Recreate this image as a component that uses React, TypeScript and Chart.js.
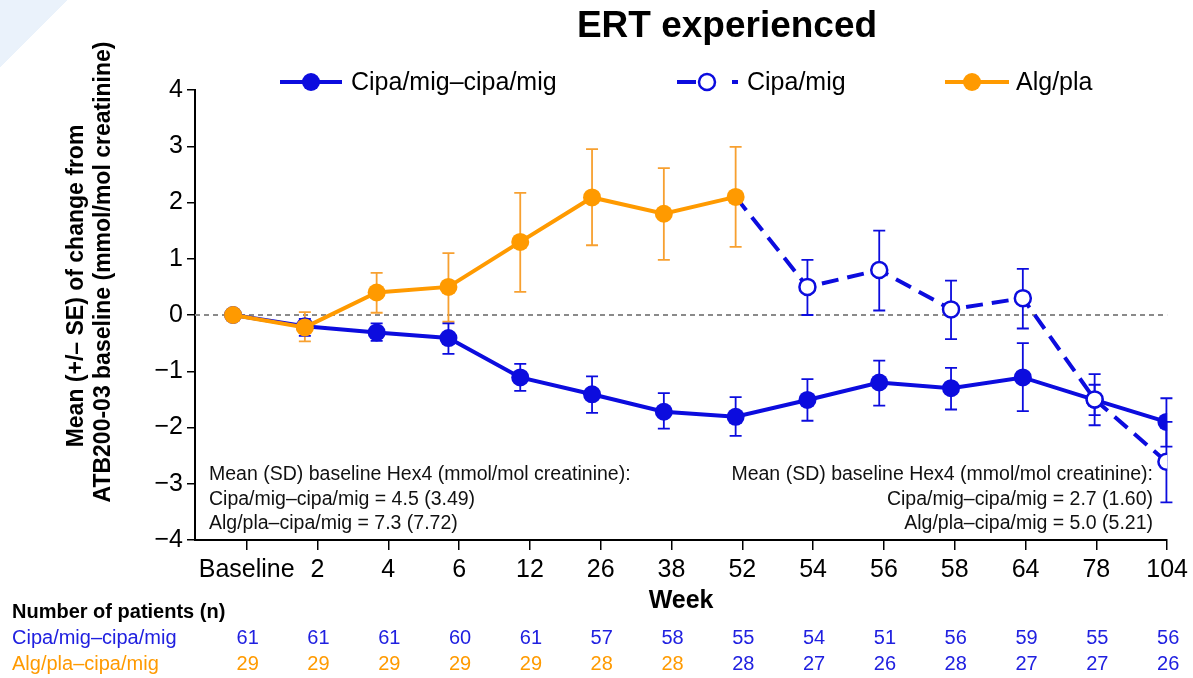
import React, { useEffect, useRef } from 'react';
import { Chart, registerables } from 'chart.js';

Chart.register(...registerables);

// ---------- data ----------
const weekLabels = ['Baseline', '2', '4', '6', '12', '26', '38', '52', '54', '56', '58', '64', '78', '104'];

// Cipa/mig–cipa/mig (solid blue), all weeks
const cipaMean = [0, -0.2, -0.31, -0.41, -1.11, -1.41, -1.72, -1.81, -1.51, -1.2, -1.3, -1.11, -1.51, -1.9];
const cipaLow = [null, -0.37, -0.46, -0.69, -1.35, -1.74, -2.02, -2.15, -1.88, -1.61, -1.68, -1.71, -1.78, -2.34];
const cipaHigh = [null, -0.07, -0.15, -0.15, -0.87, -1.09, -1.39, -1.46, -1.14, -0.81, -0.94, -0.5, -1.24, -1.48];

// Alg/pla (orange), baseline to week 52
const algMean = [0, -0.22, 0.4, 0.5, 1.3, 2.09, 1.8, 2.1];
const algLow = [null, -0.47, 0.04, -0.12, 0.41, 1.24, 0.98, 1.21];
const algHigh = [null, 0.05, 0.75, 1.1, 2.17, 2.95, 2.61, 2.99];

// Alg/pla switched to Cipa/mig (dashed blue), week 52 to 104
const switchStartIndex = 7;
const switchMean = [2.1, 0.5, 0.8, 0.1, 0.3, -1.5, -2.61];
const switchLow = [null, 0.0, 0.08, -0.43, -0.24, -1.96, -3.33];
const switchHigh = [null, 0.98, 1.5, 0.61, 0.82, -1.05, -1.9];

// Number of patients
const nCipa = [61, 61, 61, 60, 61, 57, 58, 55, 54, 51, 56, 59, 55, 56];
const nAlg = [29, 29, 29, 29, 29, 28, 28, 28, 27, 26, 28, 27, 27, 26];

const yTicks = [-4, -3, -2, -1, 0, 1, 2, 3, 4];

const annotLeft = [
  'Mean (SD) baseline Hex4 (mmol/mol creatinine):',
  'Cipa/mig\u2013cipa/mig = 4.5 (3.49)',
  'Alg/pla\u2013cipa/mig = 7.3 (7.72)',
];
const annotRight = [
  'Mean (SD) baseline Hex4 (mmol/mol creatinine):',
  'Cipa/mig\u2013cipa/mig = 2.7 (1.60)',
  'Alg/pla\u2013cipa/mig = 5.0 (5.21)',
];

// ---------- styles ----------
const BLUE = '#0c0cde';
const BLUE_TEXT = '#2020e0';
const ORANGE = '#ff9a00';
const ORANGE_BAR = '#f7a030';
const FONT = "'Liberation Sans', Arial, Helvetica, sans-serif";

export default function App() {
  const ref = useRef<HTMLCanvasElement | null>(null);

  useEffect(() => {
    const canvas = ref.current;
    if (!canvas) return;

    const cipaPts = cipaMean.map((y, i) => ({ x: i, y }));
    const algPts = algMean.map((y, i) => ({ x: i, y }));
    const swPts = switchMean.map((y, k) => ({ x: switchStartIndex + k, y }));

    const bars = [
      { start: 0, low: algLow, high: algHigh, color: ORANGE_BAR },
      { start: 0, low: cipaLow, high: cipaHigh, color: BLUE },
      { start: switchStartIndex, low: switchLow, high: switchHigh, color: BLUE },
    ];

    const custom = {
      id: 'custom',
      beforeDatasetsDraw(chart: any) {
        const { ctx, chartArea } = chart;
        const xs = chart.scales.x;
        const ys = chart.scales.y;
        // zero reference line
        ctx.save();
        ctx.strokeStyle = '#8a8a8a';
        ctx.lineWidth = 2;
        ctx.setLineDash([5, 4]);
        const y0 = ys.getPixelForValue(0);
        ctx.beginPath();
        ctx.moveTo(chartArea.left, y0);
        ctx.lineTo(chartArea.right, y0);
        ctx.stroke();
        ctx.restore();
        // error bars
        ctx.save();
        ctx.lineWidth = 1.8;
        bars.forEach((b) => {
          ctx.strokeStyle = b.color;
          b.low.forEach((lo, k) => {
            const hi = b.high[k];
            if (lo == null || hi == null) return;
            const px = xs.getPixelForValue(b.start + k);
            const pLo = ys.getPixelForValue(lo);
            const pHi = ys.getPixelForValue(hi);
            ctx.beginPath();
            ctx.moveTo(px, pLo);
            ctx.lineTo(px, pHi);
            ctx.moveTo(px - 6, pLo);
            ctx.lineTo(px + 6, pLo);
            ctx.moveTo(px - 6, pHi);
            ctx.lineTo(px + 6, pHi);
            ctx.stroke();
          });
        });
        ctx.restore();
      },
      afterDraw(chart: any) {
        const { ctx, chartArea } = chart;
        const xt = chart.scales.xt;
        ctx.save();
        ctx.fillStyle = '#000';
        // title
        ctx.font = `bold 37px ${FONT}`;
        ctx.textAlign = 'center';
        ctx.textBaseline = 'middle';
        ctx.fillText('ERT experienced', 727, 27);

        // legend
        const ly = 82;
        ctx.lineWidth = 4;
        ctx.strokeStyle = BLUE;
        ctx.beginPath();
        ctx.moveTo(280, ly);
        ctx.lineTo(342, ly);
        ctx.stroke();
        ctx.fillStyle = BLUE;
        ctx.beginPath();
        ctx.arc(311, ly, 9, 0, Math.PI * 2);
        ctx.fill();

        ctx.beginPath();
        ctx.moveTo(677, ly);
        ctx.lineTo(696, ly);
        ctx.moveTo(732, ly);
        ctx.lineTo(738, ly);
        ctx.stroke();
        ctx.fillStyle = '#fff';
        ctx.lineWidth = 2.5;
        ctx.beginPath();
        ctx.arc(707, ly, 8, 0, Math.PI * 2);
        ctx.fill();
        ctx.stroke();

        ctx.lineWidth = 4;
        ctx.strokeStyle = ORANGE;
        ctx.beginPath();
        ctx.moveTo(945, ly);
        ctx.lineTo(1009, ly);
        ctx.stroke();
        ctx.fillStyle = ORANGE;
        ctx.beginPath();
        ctx.arc(972, ly, 9, 0, Math.PI * 2);
        ctx.fill();

        ctx.fillStyle = '#000';
        ctx.font = `25px ${FONT}`;
        ctx.textAlign = 'left';
        ctx.fillText('Cipa/mig\u2013cipa/mig', 351, ly + 1);
        ctx.fillText('Cipa/mig', 747, ly + 1);
        ctx.fillText('Alg/pla', 1016, ly + 1);

        // y axis title
        ctx.save();
        ctx.font = `bold 23px ${FONT}`;
        ctx.textAlign = 'center';
        ctx.translate(77, 280);
        ctx.rotate(-Math.PI / 2);
        ctx.fillText('Mean (+/\u2013 SE) of change from', -6, 0);
        ctx.fillText('ATB200-03 baseline (mmol/mol creatinine)', 8, 27);
        ctx.restore();

        // x axis title
        ctx.font = `bold 25px ${FONT}`;
        ctx.textAlign = 'center';
        ctx.fillText('Week', (chartArea.left + chartArea.right) / 2, 601);

        // annotations
        ctx.font = `19.5px ${FONT}`;
        ctx.fillStyle = '#111';
        ctx.textAlign = 'left';
        annotLeft.forEach((t, i) => ctx.fillText(t, 209, 475 + i * 24.5));
        ctx.textAlign = 'right';
        annotRight.forEach((t, i) => ctx.fillText(t, 1153, 475 + i * 24.5));

        // patient table
        ctx.textAlign = 'left';
        ctx.fillStyle = '#000';
        ctx.font = `bold 20px ${FONT}`;
        ctx.fillText('Number of patients (n)', 12, 612);
        ctx.font = `20px ${FONT}`;
        ctx.fillStyle = BLUE_TEXT;
        ctx.fillText('Cipa/mig\u2013cipa/mig', 12, 638);
        ctx.fillStyle = ORANGE;
        ctx.fillText('Alg/pla\u2013cipa/mig', 12, 664);
        ctx.textAlign = 'center';
        nCipa.forEach((n, i) => {
          ctx.fillStyle = BLUE_TEXT;
          ctx.fillText(String(n), xt.getPixelForValue(i) + 1, 638);
        });
        nAlg.forEach((n, i) => {
          ctx.fillStyle = i < switchStartIndex ? ORANGE : BLUE_TEXT;
          ctx.fillText(String(n), xt.getPixelForValue(i) + 1, 664);
        });
        ctx.restore();
      },
    };

    const chart = new Chart(canvas, {
      type: 'line',
      data: {
        datasets: [
          {
            label: 'Alg/pla',
            data: algPts,
            borderColor: ORANGE,
            backgroundColor: ORANGE,
            borderWidth: 4,
            pointRadius: 9,
            pointBorderWidth: 0,
            pointBackgroundColor: ORANGE,
            order: 0,
          },
          {
            label: 'Cipa/mig',
            data: swPts,
            borderColor: BLUE,
            backgroundColor: '#fff',
            borderWidth: 4,
            borderDash: [17, 9],
            pointRadius: swPts.map((_, k) => (k === 0 ? 0 : 8)),
            pointBorderWidth: 2.5,
            pointBorderColor: BLUE,
            pointBackgroundColor: '#fff',
            order: 1,
          },
          {
            label: 'Cipa/mig\u2013cipa/mig',
            data: cipaPts,
            borderColor: BLUE,
            backgroundColor: BLUE,
            borderWidth: 4,
            pointRadius: 9,
            pointBorderWidth: 0,
            pointBackgroundColor: BLUE,
            order: 2,
          },
        ],
      },
      options: {
        responsive: false,
        animation: false,
        layout: { padding: { top: 90, right: 25, bottom: 0, left: 0 } },
        plugins: {
          legend: { display: false },
          tooltip: { enabled: false },
          title: { display: false },
        },
        scales: {
          x: { type: 'linear', display: false, min: -0.53, max: 13.01 },
          xt: {
            type: 'linear',
            position: 'bottom',
            min: -0.73,
            max: 13,
            afterFit: (s: any) => {
              s.height = 138;
            },
            ticks: {
              stepSize: 1,
              includeBounds: false,
              autoSkip: false,
              maxRotation: 0,
              color: '#000',
              padding: 5,
              font: { size: 25, family: FONT },
              callback: (v: any) =>
                Number.isInteger(v) && v >= 0 && v < weekLabels.length ? weekLabels[v] : '',
            },
            grid: { drawOnChartArea: false, drawTicks: true, tickLength: 10, color: '#000', lineWidth: 1.5 },
            border: { display: true, color: '#000', width: 2 },
          },
          y: {
            type: 'linear',
            min: yTicks[0],
            max: yTicks[yTicks.length - 1],
            afterFit: (s: any) => {
              s.width = 195;
            },
            ticks: {
              stepSize: 1,
              color: '#000',
              padding: 4,
              font: { size: 25, family: FONT },
              callback: (v: any) => (v < 0 ? '\u2212' + Math.abs(v) : String(v)),
            },
            grid: { drawOnChartArea: false, drawTicks: true, tickLength: 8, color: '#000', lineWidth: 1.5 },
            border: { display: true, color: '#000', width: 2 },
          },
        },
      },
      plugins: [custom],
    } as any);

    return () => chart.destroy();
  }, []);

  return (
    <div
      style={{
        position: 'absolute',
        left: 0,
        top: 0,
        width: 1193,
        height: 678,
        background: 'linear-gradient(135deg, #eaf2fb 48px, #ffffff 48px)',
      }}
    >
      <canvas ref={ref} width={1193} height={678} style={{ display: 'block' }} />
    </div>
  );
}
